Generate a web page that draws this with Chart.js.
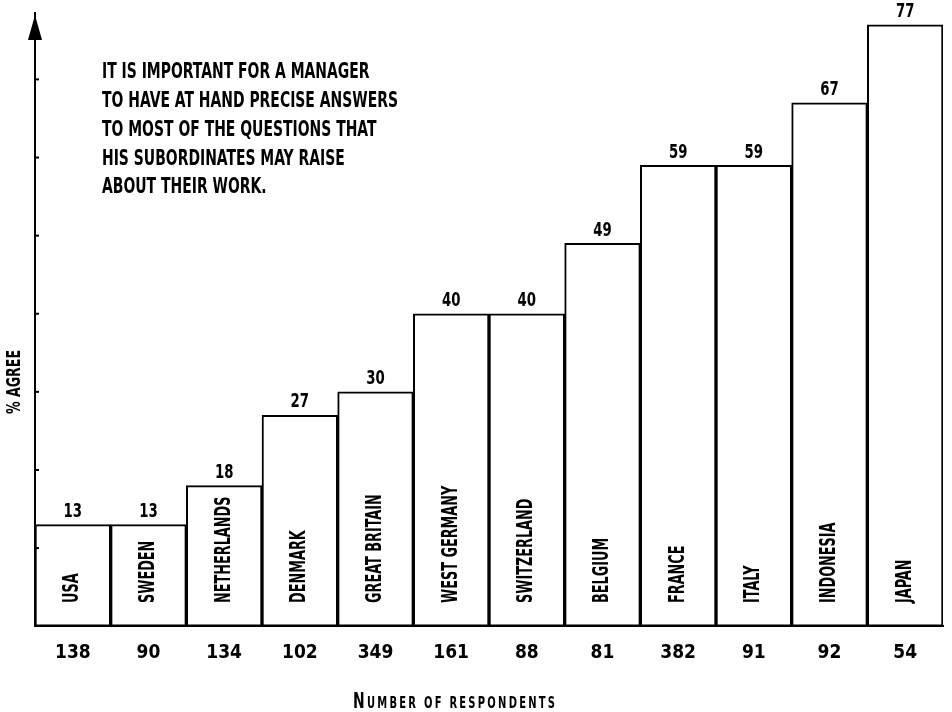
<!DOCTYPE html>
<html><head><meta charset="utf-8">
<script src="https://cdn.jsdelivr.net/npm/chart.js@4.4.0/dist/chart.umd.min.js"></script>
<style>html,body{margin:0;padding:0;background:#fff;}</style>
</head><body>
<canvas id="c" width="952" height="712"></canvas>
<script>
const categories = ['USA','SWEDEN','NETHERLANDS','DENMARK','GREAT BRITAIN','WEST GERMANY','SWITZERLAND','BELGIUM','FRANCE','ITALY','INDONESIA','JAPAN'];
const agreePct = [13,13,18,27,30,40,40,49,59,59,67,77];
const respondents = [138,90,134,102,349,161,88,81,382,91,92,54];
const yTickValues = [10,20,30,40,50,60,70];
const noteLines = [
  'IT IS IMPORTANT FOR A MANAGER',
  'TO HAVE AT HAND PRECISE ANSWERS',
  'TO MOST OF THE QUESTIONS THAT',
  'HIS SUBORDINATES MAY RAISE',
  'ABOUT THEIR WORK.'
];
const yTitle = '% AGREE';
const xTitle = 'Number of respondents';

const FF = "'DejaVu Sans Condensed','Liberation Sans Narrow','Liberation Sans',sans-serif";

function drawText(ctx, s, x, y, size, align, k, rot) {
  ctx.save();
  ctx.translate(x, y);
  if (rot) ctx.rotate(rot);
  ctx.scale(k, 1);
  ctx.font = 'bold ' + size + 'px ' + FF;
  ctx.fillStyle = '#000';
  ctx.textAlign = align;
  ctx.textBaseline = 'middle';
  ctx.fillText(s, 0, 0);
  ctx.restore();
}

const decor = {
  id: 'decor',
  afterDraw(chart) {
    const ctx = chart.ctx;
    const ca = chart.chartArea;
    const ys = chart.scales.y;
    ctx.save();
    ctx.font = 'bold 21px ' + FF;
    const k = 296 / ctx.measureText(noteLines[1]).width;
    ctx.restore();

    // y-axis arrow
    ctx.save();
    ctx.fillStyle = '#000';
    ctx.beginPath();
    ctx.moveTo(ca.left, 15);
    ctx.lineTo(ca.left - 7, 40);
    ctx.lineTo(ca.left + 7, 40);
    ctx.closePath();
    ctx.fill();
    ctx.strokeStyle = '#000';
    ctx.lineWidth = 2;
    ctx.beginPath();
    ctx.moveTo(ca.left, 40); ctx.lineTo(ca.left, ca.bottom);
    ctx.stroke();
    yTickValues.forEach(v => {
      const py = ys.getPixelForValue(v);
      ctx.beginPath();
      ctx.moveTo(ca.left, py); ctx.lineTo(ca.left + 4, py);
      ctx.stroke();
    });
    ctx.restore();

    noteLines.forEach((s, i) => drawText(ctx, s, 102, 73 + i * 28.7, 21, 'left', k));

    const meta = chart.getDatasetMeta(0);
    meta.data.forEach((bar, i) => {
      drawText(ctx, String(agreePct[i]), bar.x, bar.y - 13, 20, 'center', k);
      drawText(ctx, categories[i], bar.x, 603, 21, 'left', k * 0.92, -Math.PI / 2);
    });

    drawText(ctx, yTitle, 15, 382, 19, 'center', k, -Math.PI / 2);

    // x title in small caps, spread to reference width
    ctx.save();
    const big = 21, small = 15;
    const parts = xTitle.split('').map(ch => {
      const up = ch.toUpperCase();
      const isCap = ch === up && ch !== ' ';
      return { s: up, size: isCap ? big : small };
    });
    let natural = 0;
    parts.forEach(p => { ctx.font = 'bold ' + p.size + 'px ' + FF; p.w = ctx.measureText(p.s).width * k; natural += p.w; });
    const target = 202;
    const gap = (target - natural) / (parts.length - 1);
    let x = 454 - target / 2;
    ctx.fillStyle = '#000';
    ctx.textBaseline = 'alphabetic';
    parts.forEach(p => {
      ctx.save();
      ctx.translate(x, 708);
      ctx.scale(k, 1);
      ctx.font = 'bold ' + p.size + 'px ' + FF;
      ctx.fillText(p.s, 0, 0);
      ctx.restore();
      x += p.w + gap;
    });
    ctx.restore();
  }
};

new Chart(document.getElementById('c'), {
  type: 'bar',
  data: {
    labels: categories,
    datasets: [{
      data: agreePct,
      backgroundColor: '#ffffff',
      borderColor: '#000000',
      borderWidth: 2,
      borderSkipped: false,
      barPercentage: 1,
      categoryPercentage: 1
    }]
  },
  options: {
    responsive: false,
    devicePixelRatio: 1,
    animation: false,
    layout: { padding: { left: 35, right: 9, top: 13, bottom: 33 } },
    plugins: { legend: { display: false }, tooltip: { enabled: false } },
    scales: {
      x: {
        grid: { display: false, drawTicks: false },
        border: { display: true, color: '#000', width: 2 },
        ticks: {
          color: '#000',
          padding: 15,
          autoSkip: false,
          maxRotation: 0,
          font: { size: 19, weight: 'bold', family: FF },
          callback: (v, i) => String(respondents[i])
        }
      },
      y: {
        min: 0, max: 78.5,
        grid: { display: false, drawTicks: false },
        border: { display: true, color: '#000', width: 2 },
        ticks: { display: false }
      }
    }
  },
  plugins: [decor]
});
</script>
</body></html>
